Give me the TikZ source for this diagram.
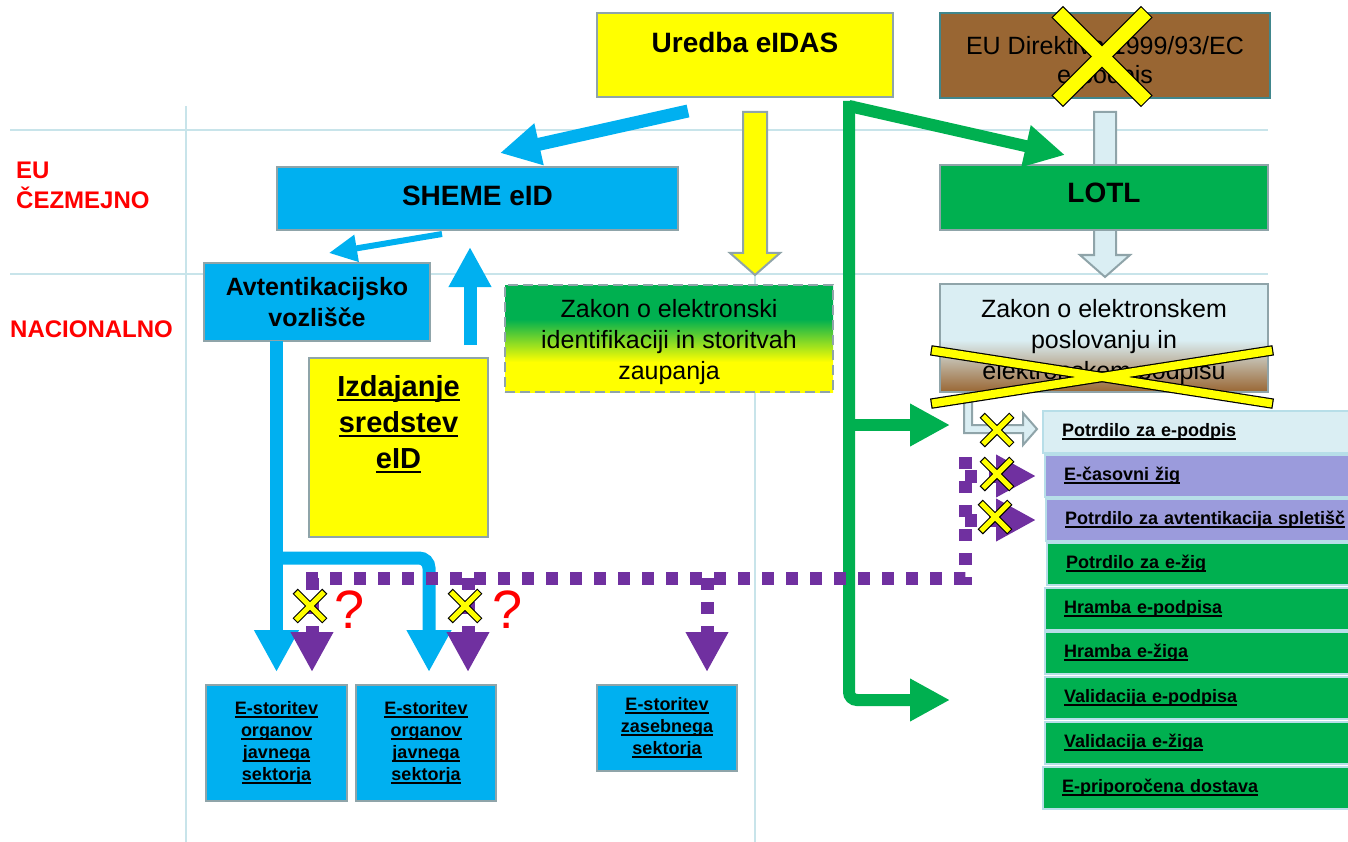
\documentclass[tikz,border=0pt]{standalone}
\usepackage{fontspec}
\setmainfont{Liberation Sans}
\usetikzlibrary{calc, arrows.meta}

\definecolor{modra}{RGB}{0,176,240}
\definecolor{zelena}{RGB}{0,176,80}
\definecolor{rumena}{RGB}{255,255,0}
\definecolor{rjava}{RGB}{153,102,51}
\definecolor{svetlomodra}{RGB}{218,238,243}
\definecolor{vijolicna}{RGB}{112,48,160}
\definecolor{lila}{RGB}{155,155,220}
\definecolor{sivaokv}{RGB}{143,164,169}
\definecolor{mreza}{RGB}{200,228,234}
\definecolor{turkizokv}{RGB}{64,134,140}
\definecolor{rdeca}{RGB}{255,0,0}
\definecolor{okvseznam}{RGB}{183,222,232}

% prehodi barv v okvirjih zakonov
\pgfdeclareverticalshading{prehodZR}{100bp}{color(0bp)=(rumena); color(39bp)=(rumena); color(59bp)=(zelena); color(100bp)=(zelena)}
\pgfdeclareverticalshading{prehodMR}{100bp}{color(0bp)=(rjava); color(25bp)=(rjava); color(49bp)=(svetlomodra); color(100bp)=(svetlomodra)}

\newcommand{\velikkrepki}{\bfseries\fontsize{28}{34}\selectfont}
\newcommand{\srednji}{\fontsize{25}{31}\selectfont}
\newcommand{\srednjikrepki}{\bfseries\fontsize{25}{31}\selectfont}
\newcommand{\izdajafont}{\bfseries\fontsize{29}{36}\selectfont}
\newcommand{\malikrepki}{\bfseries\fontsize{18}{22}\selectfont}

% podcrtano besedilo
\newcommand{\podc}[1]{\setbox0=\hbox{#1}\rlap{\rule[-0.17em]{\wd0}{0.085em}}\box0}

\newcommand{\blokdol}[6]{ % #1 zacetek, #2 konica, #3 pol debla, #4 pol glave, #5 dolzina glave, #6 barva
  \filldraw[fill=#6, draw=sivaokv, line width=2pt]
    ($(#1)+(-#3,0)$) -- ($(#2)+(-#3,-#5)$) -- ($(#2)+(-#4,-#5)$) -- (#2)
    -- ($(#2)+(#4,-#5)$) -- ($(#2)+(#3,-#5)$) -- ($(#1)+(#3,0)$) -- cycle;
}

\newcommand{\krizec}[4]{ % #1 sredisce, #2 pol x, #3 pol y, #4 debelina
  \draw[black, line width=#4+2.4pt, shorten <=-1.2pt, shorten >=-1.2pt] ($(#1)+(-#2,-#3)$) -- ($(#1)+(#2,#3)$);
  \draw[black, line width=#4+2.4pt, shorten <=-1.2pt, shorten >=-1.2pt] ($(#1)+(#2,-#3)$) -- ($(#1)+(-#2,#3)$);
  \draw[rumena, line width=#4] ($(#1)+(-#2,-#3)$) -- ($(#1)+(#2,#3)$);
  \draw[rumena, line width=#4] ($(#1)+(#2,-#3)$) -- ($(#1)+(-#2,#3)$);
}

\tikzset{
  mrezna/.style={draw=mreza, line width=1.2pt},
  okvir/.style={draw=sivaokv, line width=2.5pt, inner sep=0pt, outer sep=0pt, anchor=north west},
  oznaka/.style={text=rdeca, font=\bfseries\fontsize{24}{30}\selectfont, inner sep=0pt},
  seznam/.style={draw=okvseznam, line width=2pt, anchor=north west, minimum height=42pt,
    text width=290pt, inner xsep=19pt, inner ysep=0pt, outer sep=0pt, align=left, font=\malikrepki},
  modpus/.style={draw=modra, line width=13pt, -{Triangle[length=40pt, width=40pt]}},
  zelpus/.style={draw=zelena, line width=12pt, -{Triangle[length=40pt, width=40pt]}},
  vijpot/.style={draw=vijolicna, line width=13pt, dash pattern=on 12pt off 12pt},
  vijpus/.style={vijpot, -{Triangle[length=40pt, width=40pt]}},
  svetpus/.style={fill=svetlomodra, draw=sivaokv, line width=2pt},
  vprasaj/.style={text=rdeca, font=\fontsize{54}{60}\selectfont, inner sep=0pt},
}

\begin{document}
\begin{tikzpicture}[x=1pt, y=-1pt]
\useasboundingbox (0,0) rectangle (1348,842);

% mreza v ozadju
\draw[mrezna] (10,130) -- (1268,130);
\draw[mrezna] (10,274) -- (1268,274);
\draw[mrezna] (186,106) -- (186,842);
\draw[mrezna] (755,274) -- (755,842);

% ravni
\node[oznaka, anchor=north west, align=left] (eu) at (16,162) {EU\\ČEZMEJNO};
\node[oznaka, anchor=base west] (nac) at (10,337) {NACIONALNO};

% zgornji okvirji
\node[okvir, fill=rumena, minimum width=296pt, minimum height=84pt, text height=40pt, text depth=44pt, font=\velikkrepki] (uredba) at (597,13) {Uredba eIDAS};
\node[okvir, draw=turkizokv, fill=rjava, minimum width=330pt, minimum height=85pt, align=center, font=\fontsize{25}{29}\selectfont] (direktiva) at (940,13) {\rule{0pt}{33pt}EU Direktiva 1999/93/EC\\e-podpis};
\node[okvir, shading=prehodZR, dash pattern=on 10pt off 5pt, minimum width=328pt, minimum height=107pt, align=center, font=\srednji] (zakon1) at (505,285) {\rule{0pt}{26pt}Zakon o elektronski\\identifikaciji in storitvah\\zaupanja};
\node[okvir, shading=prehodMR, minimum width=328pt, minimum height=108pt, align=center, font=\srednji] (zakon2) at (940,284) {\rule{0pt}{26pt}Zakon o elektronskem\\poslovanju in\\elektronskem podpisu};

% votle puscice
\coordinate (rumZ) at ($(uredba.south)+(10,15)$);
\coordinate (rumK) at ($(rumZ |- zakon1.north)+(0,-10)$);
\blokdol{rumZ}{rumK}{12}{25}{22}{rumena}
\coordinate (lotZ) at ($(direktiva.south)+(0,14)$);
\coordinate (lotK) at ($(lotZ |- zakon2.north)+(0,-7)$);
\blokdol{lotZ}{lotK}{11}{25}{22}{svetlomodra}
\filldraw[svetpus, shift={(zakon2.south west)}] (24,3) -- (24,41) -- (83,41) -- (83,53) -- (97,37) -- (83,21) -- (83,33) -- (32,33) -- (32,3) -- cycle;

\node[okvir, fill=zelena, minimum width=328pt, minimum height=65pt, text height=38pt, text depth=27pt, font=\velikkrepki] (lotl) at (940,165) {LOTL};
\node[okvir, fill=modra, minimum width=401pt, minimum height=63pt, text height=39pt, text depth=24pt, font=\velikkrepki] (sheme) at (277,167) {SHEME eID};
\node[okvir, fill=modra, minimum width=226pt, minimum height=78pt, align=center, font=\srednjikrepki] (avt) at (204,263) {Avtentikacijsko\\vozlišče};
\node[okvir, fill=rumena, minimum size=179pt] (izdaja) at (309,358) {};
\node[font=\izdajafont, align=center, anchor=north, inner sep=0pt] (izdajaT) at ($(izdaja.north)+(0,17)$) {\podc{Izdajanje}\\\podc{sredstev}\\\podc{eID}};

% e-storitve
\node[okvir, fill=modra, minimum width=141pt, minimum height=116pt, align=center, font=\malikrepki] (e1) at (206,685) {\podc{E-storitev}\\\podc{organov}\\\podc{javnega}\\\podc{sektorja}};
\node[okvir, fill=modra, minimum width=140pt, minimum height=116pt, align=center, font=\malikrepki] (e2) at (356,685) {\podc{E-storitev}\\\podc{organov}\\\podc{javnega}\\\podc{sektorja}};
\node[okvir, fill=modra, minimum width=140pt, minimum height=86pt, align=center, font=\malikrepki] (e3) at (597,685) {\podc{E-storitev}\\\podc{zasebnega}\\\podc{sektorja}};

% storitve zaupanja
\foreach \yy/\xx/\barva/\bes [count=\i] in {411/1043/svetlomodra/Potrdilo za e-podpis, 455/1045/lila/E-časovni žig, 499/1046/lila/Potrdilo za avtentikacija spletišč, 543/1047/zelena/Potrdilo za e-žig, 588/1045/zelena/Hramba e-podpisa, 632/1045/zelena/Hramba e-žiga, 677/1045/zelena/Validacija e-podpisa, 722/1045/zelena/Validacija e-žiga, 767/1043/zelena/E-priporočena dostava}
  \node[seznam, fill=\barva] (sez\i) at (\xx,\yy) {\podc{\bes}};

% modre puscice
\draw[modpus] ($(uredba.south)+(-57,14)$) -- ($(sheme.north)+(22.5,-14)$);
\draw[modpus, line width=6pt, -{Triangle[length=28pt, width=26pt]}] ($(sheme.south)+(-35.5,4)$) -- ($(avt.north)+(12,-10)$);
\draw[modpus] ($(izdaja.north)+(71.5,-13)$) -- ($(sheme.south)+(-7.5,17)$);
\coordinate (modZ) at (e1.north |- avt.south);
\coordinate (veja) at ($(modZ)+(0,217)$);
\draw[modpus, -{Triangle[length=42pt, width=42pt]}] (modZ) -- ($(e1.north)+(0,-13)$);
\draw[modpus, -{Triangle[length=42pt, width=42pt]}, rounded corners=10pt] ($(veja)+(-6,0)$) -- ($(veja -| e2.north)+(3,0)$) -- ($(e2.north)+(3,-13)$);

% zelene puscice
\coordinate (zelZ) at ($(uredba.south east)+(-44,9)$);
\coordinate (zelS) at ($(zakon2.south west)+(10,33)$);
\coordinate (zelJ) at ($(sez7.west)+(-95,2)$);
\draw[zelpus] (zelZ) -- ($(lotl.north west)+(125,-10)$);
\draw[zelpus, rounded corners=8pt] ($(zelZ)+(0,-5)$) -- (zelZ |- zelJ) -- (zelJ);
\draw[zelpus] (zelZ |- zelS) -- (zelS);

% vijolicne pikcaste puscice
\coordinate (vijL) at (312,578);
\coordinate (vijS) at (468,578);
\coordinate (vijD) at (707,578);
\coordinate (vijK) at (965,578);
\draw[vijpot] ($(vijL)+(-6,0)$) -- (vijK) -- ($(vijK |- sez1.west)+(0,14)$);
\draw[vijpus] (vijK |- sez2.west) -- ($(sez2.west)+(-9,0)$);
\draw[vijpus] (vijK |- sez3.west) -- ($(sez3.west)+(-10,0)$);
\foreach \v/\cilj in {vijL/e1, vijS/e2, vijD/e3}
  \draw[vijpus] (\v) -- ($(\v |- \cilj.north)+(0,-13)$);

% precrtano
\coordinate (krDir) at ($(direktiva.center)+(-3,1)$);
\krizec{krDir}{44}{44}{14pt}
\coordinate (krZak) at ($(zakon2.south)+(-2,-15)$);
\krizec{krZak}{170}{26.5}{8pt}
\coordinate (kr1) at ($(vijL)+(-2,28)$);
\coordinate (kr2) at ($(vijS)+(-3,28)$);
\coordinate (kr3) at ($(vijK |- sez1.west)+(32,-2)$);
\coordinate (kr4) at ($(vijK |- sez2.west)+(32,-2)$);
\coordinate (kr5) at ($(vijK |- sez3.west)+(30,-3)$);
\foreach \k in {kr1,kr2,kr3,kr4,kr5}{
  \krizec{\k}{14}{14}{5pt}
}

\node[vprasaj] (q1) at ($(kr1)+(40,4)$) {?};
\node[vprasaj] (q2) at ($(kr2)+(43,4)$) {?};

\end{tikzpicture}
\end{document}
